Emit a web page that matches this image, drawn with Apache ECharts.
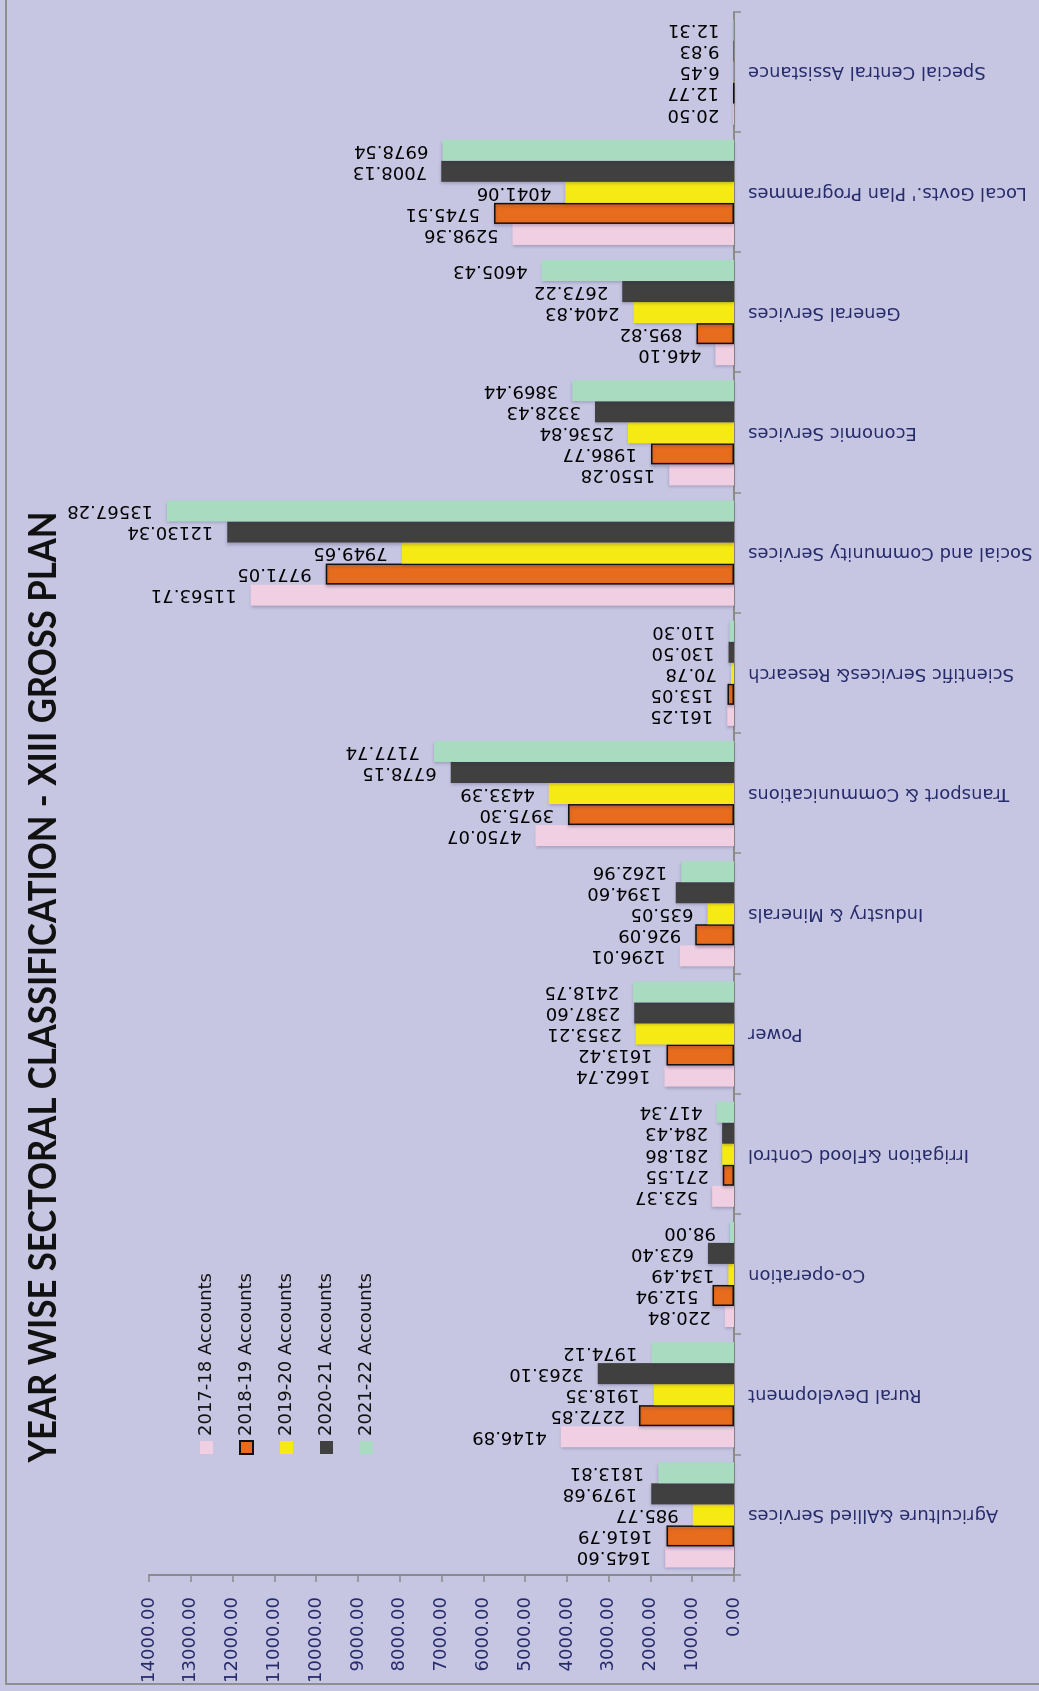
<!DOCTYPE html>
<html>
<head>
<meta charset="utf-8">
<script src="https://cdn.jsdelivr.net/npm/echarts@6/dist/echarts.min.js"></script>
<style>
  html, body { margin: 0; padding: 0; width: 1039px; height: 1691px; overflow: hidden; background: #c6c5e2; }
  /* The chart is laid out landscape and turned a quarter-turn to stand on the portrait page */
  #chart {
    position: absolute; left: 0; top: 0;
    width: 1691px; height: 1039px;
    transform-origin: 0 0;
    transform: rotate(-90deg) translate(-1691px, 0);
  }
</style>
</head>
<body>
<div id="chart"></div>
<script>
// Sectors (in plan order)
const categories = [
  'Agriculture &Allied Services',
  'Rural Development',
  'Co-operation',
  'Irrigation &Flood Control',
  'Power',
  'Industry & Minerals',
  'Transport & Communications',
  'Scientific Services& Research',
  'Social and Community Services',
  'Economic Services',
  'General Services',
  "Local Govts.' Plan Programmes",
  'Special Central Assistance'
];

const seriesNames = ['2017-18 Accounts', '2018-19 Accounts', '2019-20 Accounts', '2020-21 Accounts', '2021-22 Accounts'];

const accounts2017_18 = [1645.60, 4146.89, 220.84, 523.37, 1662.74, 1296.01, 4750.07, 161.25, 11563.71, 1550.28, 446.10, 5298.36, 20.50];
const accounts2018_19 = [1616.79, 2272.85, 512.94, 271.55, 1613.42, 926.09, 3975.30, 153.05, 9771.05, 1986.77, 895.82, 5745.51, 12.77];
const accounts2019_20 = [985.77, 1918.35, 134.49, 281.86, 2353.21, 635.05, 4433.39, 70.78, 7949.65, 2536.84, 2404.83, 4041.06, 6.45];
const accounts2020_21 = [1979.68, 3263.10, 623.40, 284.43, 2387.60, 1394.60, 6778.15, 130.50, 12130.34, 3328.43, 2673.22, 7008.13, 9.83];
const accounts2021_22 = [1813.81, 1974.12, 98.00, 417.34, 2418.75, 1262.96, 7177.74, 110.30, 13567.28, 3869.44, 4605.43, 6978.54, 12.31];

const valueTicks = { min: 0, max: 14000, interval: 1000 };

const titleText = 'YEAR WISE SECTORAL CLASSIFICATION - XIII GROSS PLAN';

const seriesData = [accounts2017_18, accounts2018_19, accounts2019_20, accounts2020_21, accounts2021_22];
const colors = ['#f0cfe2', '#e86c1e', '#f6ea14', '#404040', '#a9dbc1'];

const labelFont = 'DejaVu Sans';
const navy = '#262b6b';

// squeeze the bold title to its narrow, condensed look
const titleFontSize = 38;
const titleFont = 'bold ' + titleFontSize + 'px Lato';
const mc = document.createElement('canvas').getContext('2d');
mc.font = titleFont;
const titleScaleX = 951 / mc.measureText(titleText).width;

const chart = echarts.init(document.getElementById('chart'), null, { renderer: 'canvas' });

const series = seriesNames.map((name, i) => ({
  name: name,
  type: 'bar',
  data: seriesData[i],
  barGap: '0%',
  barCategoryGap: '12.5%',
  itemStyle: Object.assign({
    color: colors[i],
    shadowColor: 'rgba(40,30,80,0.25)',
    shadowBlur: 3,
    shadowOffsetX: -2
  }, i === 1 ? { borderColor: '#111', borderWidth: 1.5 } : {}),
  label: {
    show: true,
    position: 'top',
    rotate: 90,
    align: 'left',
    verticalAlign: 'middle',
    distance: 14,
    offset: [0, 0],
    color: '#000',
    fontFamily: labelFont,
    fontSize: 18,
    formatter: p => p.value.toFixed(2)
  }
}));

chart.setOption({
  backgroundColor: '#c6c5e2',
  animation: false,
  color: colors,
  legend: {
    orient: 'vertical',
    left: 231,
    top: 191,
    itemWidth: 13,
    itemHeight: 13,
    itemGap: 19,
    icon: 'rect',
    data: seriesNames,
    textStyle: { fontFamily: labelFont, fontSize: 18, color: '#111', lineHeight: 21 }
  },
  grid: { left: 116, right: 12, top: 149, bottom: 305, containLabel: false },
  xAxis: {
    type: 'category',
    data: categories,
    axisLine: { lineStyle: { color: '#8a8a8a', width: 2 } },
    axisTick: { show: true, length: 7, lineStyle: { color: '#8a8a8a', width: 1.5 } },
    axisLabel: {
      rotate: 90,
      margin: 14,
      interval: 0,
      color: navy,
      fontFamily: labelFont,
      fontSize: 18
    }
  },
  yAxis: {
    type: 'value',
    min: valueTicks.min,
    max: valueTicks.max,
    interval: valueTicks.interval,
    splitLine: { show: false },
    axisLine: { show: true, lineStyle: { color: '#8a8a8a', width: 2 } },
    axisTick: { show: true, length: 7, lineStyle: { color: '#8a8a8a', width: 1.5 } },
    axisLabel: {
      margin: 22,
      color: navy,
      fontFamily: labelFont,
      fontSize: 18,
      formatter: v => v.toFixed(2)
    }
  },
  graphic: [
    {
      type: 'polyline',
      silent: true,
      shape: { points: [[7, 1100], [7, 6], [1760, 6]] },
      style: { stroke: '#8f8f8f', lineWidth: 2, fill: null }
    },
    {
      type: 'text',
      x: 704,
      y: 44,
      scaleX: titleScaleX,
      style: {
        text: titleText,
        font: titleFont,
        fill: '#111',
        textAlign: 'center',
        textVerticalAlign: 'middle'
      }
    }
  ],
  series: series
});
</script>
</body>
</html>
